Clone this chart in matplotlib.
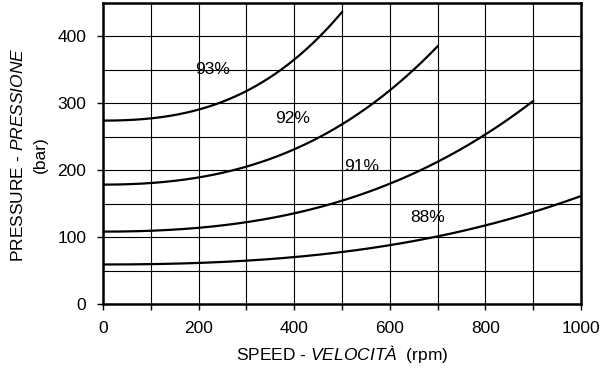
import numpy as np
import matplotlib.pyplot as plt
from matplotlib.ticker import MultipleLocator

plt.rcParams['font.family'] = 'Liberation Sans'
plt.rcParams['mathtext.fontset'] = 'custom'
plt.rcParams['mathtext.it'] = 'Liberation Sans:italic'
plt.rcParams['mathtext.rm'] = 'Liberation Sans'

# Curve data (speed rpm, pressure bar)
x93 = [0, 100, 200, 300, 370, 412, 500]
y93 = [275, 278, 290, 315, 350, 376, 435]

x92 = [0, 100, 200, 300, 400, 500, 600, 700]
y92 = [180, 181, 188, 203, 234, 268, 320, 385]

x91 = [0, 100, 200, 300, 400, 500, 600, 700, 800, 900]
y91 = [110, 110, 113, 120, 136, 155, 180, 213, 254, 303]

x88 = [0, 100, 200, 300, 400, 500, 600, 700, 800, 900, 1000]
y88 = [60, 60, 61, 64, 70, 78, 88, 101, 118, 138, 161]

labels = ['93%', '92%', '91%', '88%']
label_x = [228, 397, 540, 680]
label_y = [350, 278, 205, 129]


def smooth(xs, ys, n=300):
    # least squares fit with a flat start: y = a + b x^2 + c x^3
    x = np.asarray(xs, float) / 1000
    y = np.asarray(ys, float)
    A = np.column_stack([np.ones_like(x), x**2, x**3])
    coef = np.linalg.lstsq(A, y, rcond=None)[0]
    xx = np.linspace(x[0], x[-1], n)
    yy = coef[0] + coef[1] * xx**2 + coef[2] * xx**3
    return xx * 1000, yy


fig = plt.figure(figsize=(6.03, 3.74), dpi=100)
ax = fig.add_axes([0.171, 0.187, 0.7925, 0.805])

for xs, ys in [(x93, y93), (x92, y92), (x91, y91), (x88, y88)]:
    xx, yy = smooth(xs, ys)
    ax.plot(xx, yy, color='black', lw=1.6, zorder=3)

for t, lx, ly in zip(labels, label_x, label_y):
    ax.text(lx, ly, t, fontsize=12.5, ha='center', va='center', zorder=4)

ax.set_xlim(0, 1000)
ax.set_ylim(0, 450)
ax.xaxis.set_major_locator(MultipleLocator(200))
ax.xaxis.set_minor_locator(MultipleLocator(100))
ax.yaxis.set_major_locator(MultipleLocator(100))
ax.yaxis.set_minor_locator(MultipleLocator(50))
ax.grid(which='both', color='black', lw=0.8)
ax.tick_params(which='both', direction='out', length=4, width=1, labelsize=12.5,
               color='black', pad=8)
ax.tick_params(axis='y', which='minor', length=0)
for s in ax.spines.values():
    s.set_linewidth(1.8)

ax.set_xlabel('SPEED - $\\mathit{VELOCITÀ}$  (rpm)', fontsize=12.5, labelpad=5)
fig.text(0.03, 0.587, 'PRESSURE - $\\mathit{PRESSIONE}$', rotation=90, fontsize=12.5,
         ha='center', va='center')
fig.text(0.067, 0.587, '(bar)', rotation=90, fontsize=12.5, ha='center', va='center')

fig.savefig('out.png', dpi=100)
